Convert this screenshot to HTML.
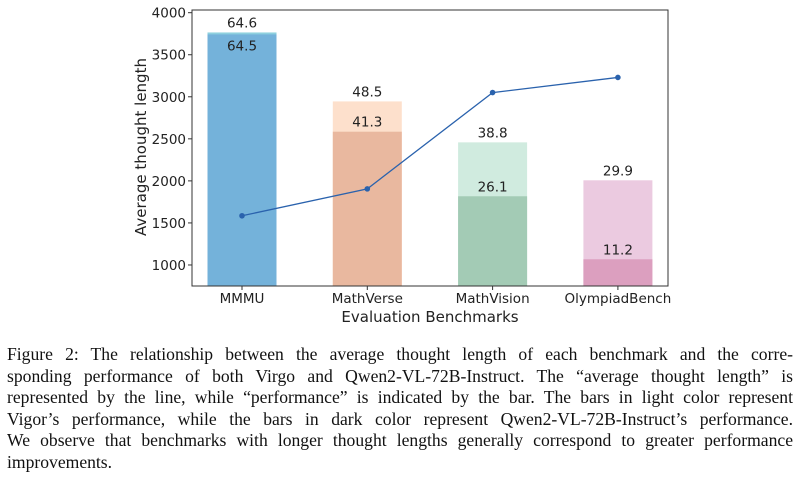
<!DOCTYPE html>
<html><head><meta charset="utf-8"><style>
body{margin:0;background:#fff;width:800px;height:485px;overflow:hidden}
svg text{font-family:"DejaVu Sans",sans-serif;fill:#222}
#cap{position:absolute;left:7px;top:344px;width:786px;font-family:"Liberation Serif",serif;font-size:17.6px;line-height:21.5px;color:#111}
#cap span{display:block;text-align:justify;text-align-last:justify;white-space:nowrap}
#cap span.last{text-align-last:left}
</style></head><body>
<svg id="chart" width="800" height="340" style="position:absolute;left:0;top:0"></svg>
<div id="cap"><span>Figure 2: The relationship between the average thought length of each benchmark and the corre-</span><span>sponding performance of both Virgo and Qwen2-VL-72B-Instruct. The “average thought length” is</span><span>represented by the line, while “performance” is indicated by the bar. The bars in light color represent</span><span>Vigor’s performance, while the bars in dark color represent Qwen2-VL-72B-Instruct’s performance.</span><span>We observe that benchmarks with longer thought lengths generally correspond to greater performance</span><span class="last">improvements.</span></div>
<script>
const categories=["MMMU","MathVerse","MathVision","OlympiadBench"];
const lightHeights=[3765,2945,2458,2007];
const darkHeights=[3742,2585,1817,1068];
const lightLabels=["64.6","48.5","38.8","29.9"];
const darkLabels=["64.5","41.3","26.1","11.2"];
const thoughtLength=[1585,1905,3050,3230];
const yTicks=[1000,1500,2000,2500,3000,3500,4000];
const lightColors=["#8ed0de","#fde0cc","#d0ebdf","#ebcae0"];
const darkColors=["#74b2da","#e9b89f","#a3cbb5","#dc9fbf"];
const svg=document.getElementById('chart');
const NS="http://www.w3.org/2000/svg";
const L=192,R=668,T=10,B=286,Y0=750,Y1=4032;
const y=v=>B-(v-Y0)/(Y1-Y0)*(B-T);
const x=i=>242+i*125.3;
const bw=69;
function mk(t,a,p){const e=document.createElementNS(NS,t);for(const k in a)e.setAttribute(k,a[k]);(p||svg).appendChild(e);return e;}
categories.forEach((c,i)=>{
 const lb=mk('rect',{x:x(i)-bw/2,y:y(lightHeights[i]),width:bw,height:B-y(lightHeights[i]),fill:lightColors[i]});
 
 
 const db=mk('rect',{x:x(i)-bw/2,y:y(darkHeights[i]),width:bw,height:B-y(darkHeights[i]),fill:darkColors[i]});
 
 
 const ly=y(lightHeights[i])-5;
 const t1=mk('text',{x:x(i),y:ly,'text-anchor':'middle','font-size':13.5});t1.textContent=lightLabels[i];
 
 
 const dy=Math.max(y(darkHeights[i])-5,ly+23);
 const t2=mk('text',{x:x(i),y:dy,'text-anchor':'middle','font-size':13.5});t2.textContent=darkLabels[i];
 
 
 mk('line',{x1:x(i),x2:x(i),y1:B,y2:B+4,stroke:'#333'});
 const xl=mk('text',{x:x(i),y:B+17,'text-anchor':'middle','font-size':13.5});xl.textContent=c;
 
 
});
const pts=thoughtLength.map((v,i)=>x(i)+','+y(v)).join(' ');
const pl=mk('polyline',{points:pts,fill:'none',stroke:'#2a62ad','stroke-width':1.3});


thoughtLength.forEach((v,i)=>{const c=mk('circle',{cx:x(i),cy:y(v),r:2.8,fill:'#2a62ad'});
 
 });
yTicks.forEach(v=>{mk('line',{x1:L-4,x2:L,y1:y(v),y2:y(v),stroke:'#333'});
 const t=mk('text',{x:L-6,y:y(v)+5,'text-anchor':'end','font-size':13.5});t.textContent=v;
 
 });
const fr=mk('rect',{x:L,y:T,width:R-L,height:B-T,fill:'none',stroke:'#333','stroke-width':1});


const xt=mk('text',{x:(L+R)/2,y:B+36,'text-anchor':'middle','font-size':15});xt.textContent='Evaluation Benchmarks';


const yt=mk('text',{x:0,y:0,'text-anchor':'middle','font-size':15,transform:`translate(146,${(T+B)/2-1}) rotate(-90)`});yt.textContent='Average thought length';


</script>
</body></html>
